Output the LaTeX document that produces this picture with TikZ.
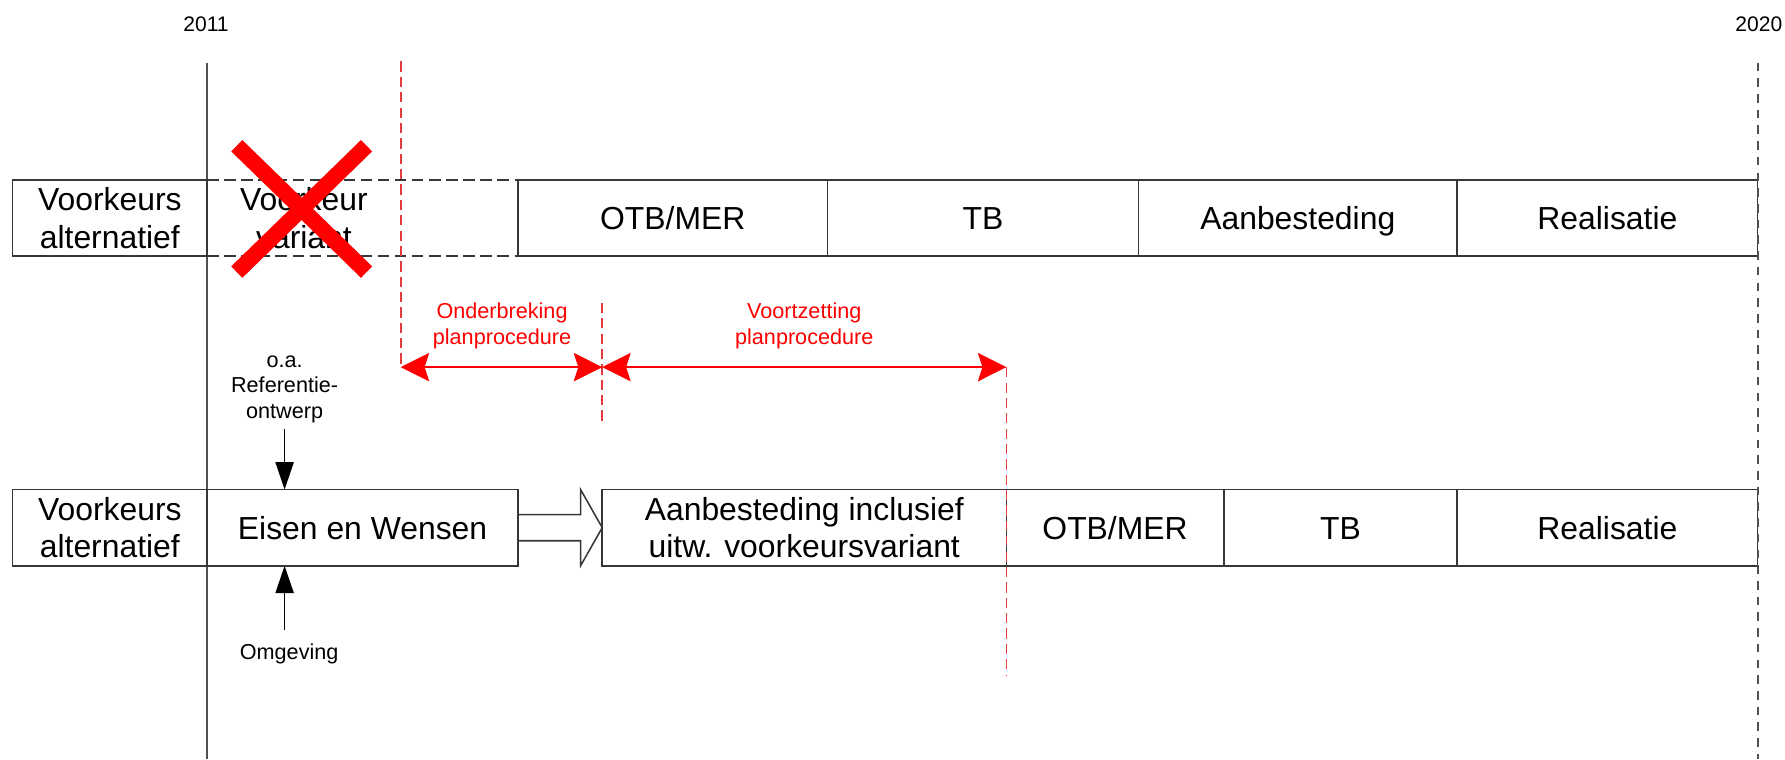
\documentclass[tikz,border=0pt]{standalone}
\usepackage{fontspec}
\setmainfont{Liberation Sans}
\usetikzlibrary{arrows.meta}
\definecolor{ln}{RGB}{55,55,55}
\definecolor{ax}{RGB}{80,80,80}
\definecolor{rd}{RGB}{255,0,0}
\definecolor{rdl}{RGB}{228,60,60}
\begin{document}
\begin{tikzpicture}[x=1pt,y=-1pt,
  box/.style={draw=ln, line width=1.35pt, minimum height=67pt, inner sep=0pt, outer sep=0pt, align=center, font=\fontsize{28}{33}\selectfont},
  one/.style={text height=20pt, text depth=0pt},
  lbl/.style={align=center, inner sep=0pt, font=\fontsize{19}{22.5}\selectfont},
  rlbl/.style={lbl, text=rd},
  yr/.style={inner sep=0pt, font=\fontsize{18.5}{22}\selectfont},
  rdash/.style={draw=rdl, line width=1.4pt, dash pattern=on 9pt off 4.5pt},
  rarrow/.style={draw=rd, line width=1.5pt, {Stealth[length=25pt,width=25pt,inset=4pt]}-{Stealth[length=25pt,width=25pt,inset=4pt]}},
  barrow/.style={draw=black, line width=1.3pt, -{Triangle[length=24pt,width=16pt]}},
  cross/.style={draw=rd, line width=14pt},
]
\useasboundingbox (0,0) rectangle (1568,667);

% year labels
\node[yr] (y2011) at (181,21) {2011};
\node[yr] (y2020) at (1545,21) {2020};

% time axis lines
\coordinate (lt) at (181.5,55.5);
\coordinate (lb) at (181.5,667);
\coordinate (rt) at (1544.5,55);
\coordinate (rb) at (1544.5,667);
\draw[ax, line width=1.8pt] (lt) -- (lb);

% top row
\node[box, minimum width=171pt] (ta) at (96.5,191.5) {Voorkeurs\\alternatief};
\node[box, one, minimum width=272pt] (tc) at (591,191.5) {OTB/MER};
\node[box, one, minimum width=273pt] (td) at (863.5,191.5) {TB};
\node[box, one, minimum width=280pt] (te) at (1140,191.5) {Aanbesteding};
\node[box, one, minimum width=264pt] (tf) at (1412,191.5) {Realisatie};
\node[box, draw=none, minimum width=170pt] (tb) at (267,191.5) {Voorkeur\\variant};
\draw[ln, line width=1.35pt, dash pattern=on 10pt off 5pt]
  (ta.north east) -- (tc.north west) (ta.south east) -- (tc.south west);

% bottom row
\node[box, minimum width=171pt] (ba) at (96.5,463.5) {Voorkeurs\\alternatief};
\node[box, one, minimum width=273pt] (bb) at (318.5,463.5) {Eisen en Wensen};
\node[box, minimum width=355pt] (bc) at (706.5,463.5) {Aanbesteding inclusief\\uitw. voorkeursvariant};
\node[box, one, minimum width=191pt] (bd) at (979.5,463.5) {OTB/MER};
\node[box, one, minimum width=205pt] (be) at (1177.5,463.5) {TB};
\node[box, one, minimum width=264pt] (bf) at (1412,463.5) {Realisatie};

% block arrow
\draw[ln, line width=1.35pt] (bb.east) ++(0,-11.5) -- ++(55,0) -- ++(0,-22) -- (bc.west)
  -- ++(-19,33.5) -- ++(0,-22) -- ++(-55,0);

% right dashed axis
\draw[ax, line width=1.8pt, dash pattern=on 7.5pt off 6.3pt] (rt) -- (rb);

% red cross
\draw[cross] (208,128) -- (322,239) (322,128) -- (208,239);

% red markers
\coordinate (p1top) at (352,54);
\coordinate (p1) at (352,322.5);
\coordinate (p2) at (bc.west |- p1);
\coordinate (p2top) at (529,266);
\coordinate (p2bot) at (529,372);
\coordinate (p3) at (bc.east |- p1);
\coordinate (p3bot) at (bc.east |- 0,594);
\draw[rdash] (p1top) -- (p1);
\draw[rdash] (p2top) -- (p2bot);
\draw[rdash] (p3) -- (p3bot);
\draw[rarrow] (p1) -- (p2);
\draw[rarrow] (p2) -- (p3);
\node[rlbl] (onder) at (441,286.5) {Onderbreking\\planprocedure};
\node[rlbl] (voort) at (706.5,286.5) {Voortzetting\\planprocedure};

% inputs
\node[lbl] (ref) at (250,342) {o.a.\\Referentie-\\ontwerp};
\node[lbl] (omg) at (254,574) {Omgeving};
\coordinate (a1) at (250,377);
\coordinate (a2) at (250,553);
\draw[barrow] (a1) -- (a1 |- bb.north);
\draw[barrow] (a2) -- (a2 |- bb.south);
\end{tikzpicture}
\end{document}
